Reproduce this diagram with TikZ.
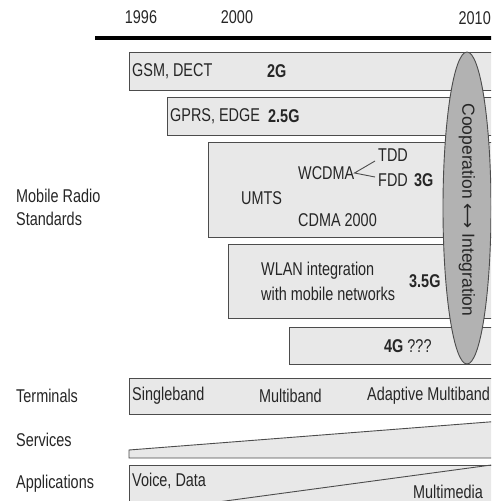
\documentclass[tikz,border=0pt]{standalone}
\usepackage{fontspec}
\setmainfont[FakeStretch=0.78]{Liberation Sans}
\newfontfamily\rotfont{Liberation Sans}
\newfontfamily\symfont{DejaVu Sans}
\usetikzlibrary{shapes.geometric}
\begin{document}
\begin{tikzpicture}[x=1pt,y=-1pt,
  font=\fontsize{18.5}{23}\selectfont,
  band/.style={draw=black!70, fill=black!9, line width=0.9pt, anchor=north west, inner sep=0pt},
  lbl/.style={anchor=west, inner sep=0pt, text=black!85}]
\clip (0,0) rectangle (491,501);
\fill[white] (0,0) rectangle (491,501);

% timeline
\node[lbl, anchor=center] (y96) at (141,17) {1996};
\node[lbl, anchor=center] (y00) at (237,17) {2000};
\node[lbl, anchor=east] (y10) at (491,18) {2010};
\coordinate (tl) at (95,38);
\coordinate (tr) at (495,38);
\draw[line width=4pt] (tl) -- (tr);

% standards
\node[band, minimum width=380, minimum height=38] (g2) at (129,52) {};
\node[band, minimum width=340, minimum height=38] (g25) at (167,97) {};
\node[band, minimum width=300, minimum height=95] (g3) at (208,142) {};
\node[band, minimum width=280, minimum height=74] (g35) at (228,244) {};
\node[band, minimum width=220, minimum height=37] (g4) at (289,327) {};

\node[lbl] (gsm) at (132,71) {GSM, DECT};
\node[lbl] (l2g) at (267,71) {\bfseries 2G};
\node[lbl] (gprs) at (170,116) {GPRS, EDGE};
\node[lbl] (l25g) at (268,116) {\bfseries 2.5G};
\node[lbl] (tdd) at (378,155) {TDD};
\node[lbl] (fdd) at (378,180) {FDD};
\node[lbl] (l3g) at (414,180) {\bfseries 3G};
\node[lbl] (wcdma) at (298,173) {WCDMA};
\node[lbl] (umts) at (241,198) {UMTS};
\node[lbl] (cdma) at (298,220) {CDMA 2000};
\node[lbl, align=left, font=\fontsize{18.5}{25}\selectfont] (wlan) at (261,281) {WLAN integration\\with mobile networks};
\node[lbl] (l35g) at (409,281) {\bfseries 3.5G};
\node[lbl] (l4g) at (384,346) {\textbf{4G} ???};

\draw[black!70, line width=0.9pt] (375,161) -- (wcdma.east) -- (375,177);

% cooperation
\node[ellipse, draw=black!70, fill=black!30, line width=0.9pt, minimum width=48, minimum height=312, inner sep=0pt] (coop) at (467,208) {};
\node[rotate=-90, inner sep=0pt, text=black!85, font=\rotfont\fontsize{17.5}{20}\selectfont] (cooptxt) at (467,210) {Cooperation {\symfont ⟷} Integration};

% rows
\node[lbl] (mrs) at (16,207) [align=left] {Mobile Radio\\Standards};
\node[lbl] (term) at (16,396) {Terminals};
\node[lbl] (serv) at (16,440) {Services};
\node[lbl] (appl) at (16,484) {Applications};

\node[band, minimum width=380, minimum height=36] (tbox) at (129,378) {};
\node[lbl] (single) at (132,396) {Singleband};
\node[lbl] (multi) at (259,396) {Multiband};
\node[lbl] (adapt) at (367,396) {Adaptive Multiband};

\draw[black!70, fill=black!9, line width=0.9pt] (129,450) -- (495,421.5) -- (495,458) -- (129,458) -- cycle;

\node[band, minimum width=380, minimum height=50] (abox) at (129,465) {};
\coordinate (dl) at (129,514);
\coordinate (dr) at (495,464.5);
\draw[black!70, line width=0.9pt] (dl) -- (dr);
\node[lbl] (voice) at (132,481) {Voice, Data};
\node[lbl] (mm) at (413,492) {Multimedia};
\end{tikzpicture}
\end{document}
